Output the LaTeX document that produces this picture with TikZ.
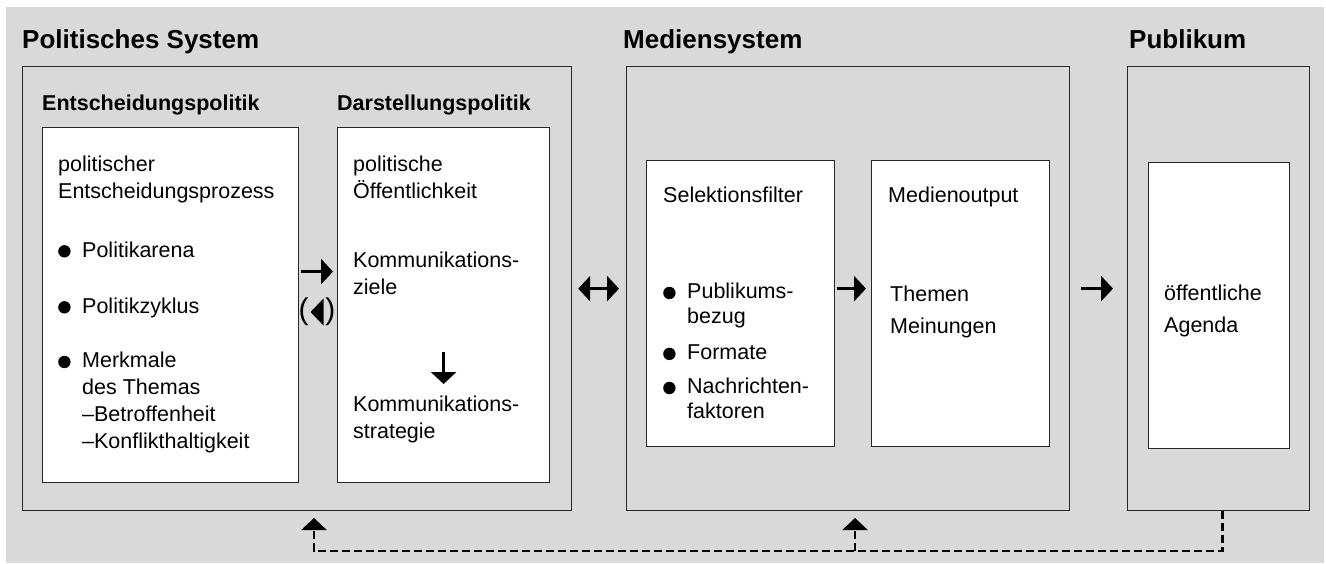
\documentclass[tikz,border=0pt]{standalone}
\usepackage{fontspec}
\setmainfont{Liberation Sans}
\usetikzlibrary{arrows.meta}
\newcommand{\bul}{\makebox[24pt][l]{\tikz[baseline=0pt]\fill (6.2pt,5.8pt) circle (6.2pt);}}
\newcommand{\ind}{\hspace*{24pt}}

\begin{document}
\begin{tikzpicture}[x=1pt, y=-1pt]
        \tikzstyle{frame}=[draw=black!85,line width=1.2pt,anchor=north west,inner sep=0pt]
        \tikzstyle{inbox}=[frame,fill=white]
        \tikzstyle{title}=[anchor=base west,inner sep=0pt,font=\fontsize{26}{31}\selectfont\bfseries]
        \tikzstyle{head}=[anchor=base west,inner sep=0pt,font=\fontsize{21.5}{27}\selectfont\bfseries]
        \tikzstyle{txt}=[anchor=north west,inner sep=0pt,align=left,font=\fontsize{21.5}{27}\selectfont,execute at begin node=\strut]
        \tikzstyle{tight}=[txt,font=\fontsize{21.5}{25}\selectfont]
        \tikzstyle{wide}=[txt,font=\fontsize{21.5}{32}\selectfont]
        \tikzstyle{arr}=[line width=2.6pt,-{Triangle[length=12pt,width=25pt]}]
        \tikzstyle{feedback}=[line width=2.4pt,dash pattern=on 8pt off 4pt,-{Triangle[length=12pt,width=25pt]}]

        \useasboundingbox (0,0) rectangle (1326,563);
        \fill[black!15] (6,7) rectangle (1324,563);

        % outer systems
        \node[frame,minimum width=549pt,minimum height=444pt] (pol) at (22,66) {};
        \node[frame,minimum width=443pt,minimum height=444pt] (med) at (626,66) {};
        \node[frame,minimum width=182pt,minimum height=444pt] (pub) at (1127,66) {};
        \node[title] (t_pol) at (22,48)   {Politisches System};
        \node[title] (t_med) at (623,48)  {Mediensystem};
        \node[title] (t_pub) at (1129,48) {Publikum};

        % inner boxes
        \node[inbox,minimum width=256pt,minimum height=355pt] (ent) at (42,127) {};
        \node[inbox,minimum width=212pt,minimum height=355pt] (dar) at (337,127) {};
        \node[inbox,minimum width=188pt,minimum height=286pt] (sel) at (646,160) {};
        \node[inbox,minimum width=178pt,minimum height=286pt] (out) at (871,160) {};
        \node[inbox,minimum width=141pt,minimum height=286pt] (agd) at (1148,162) {};
        \node[head] (h_ent) at (42,110)  {Entscheidungspolitik};
        \node[head] (h_dar) at (337,110) {Darstellungspolitik};

        \node[txt] (e1) at (58,156) {politischer\\Entscheidungsprozess};
        \node[txt] (e2) at (58,238) {\bul Politikarena};
        \node[txt] (e3) at (58,294) {\bul Politikzyklus};
        \node[txt] (e4) at (58,352) {\bul Merkmale\\\ind des Themas\\\ind –Betroffenheit\\\ind –Konflikthaltigkeit};

        \node[txt] (d1) at (353,156) {politische\\Öffentlichkeit};
        \node[txt] (d2) at (353,252) {Kommunikations-\\ziele};
        \node[txt] (d3) at (353,396) {Kommunikations-\\strategie};

        \node[txt] (s1) at (663,183) {Selektionsfilter};
        \node[tight] (s2) at (663,283) {\bul Publikums-\\\ind bezug};
        \node[tight] (s3) at (663,342) {\bul Formate};
        \node[tight] (s4) at (663,378) {\bul Nachrichten-\\\ind faktoren};

        \node[txt] (o1) at (888,183) {Medienoutput};
        \node[wide] (o2) at (890,286) {Themen\\Meinungen};

        \node[wide] (a1) at (1164,285) {öffentliche\\Agenda};

        % arrows
        \node[inner sep=0pt,font=\fontsize{30}{30}\selectfont] (rev) at (317,312) {(\hspace{17pt})};
        \fill ([xshift=-6.5pt]rev.center) -- ++(13,-13.5) -- ++(0,27) -- cycle;

        \draw[arr,shorten <=2pt,shorten >=4pt] ([yshift=33.5pt]ent.east) -- ([yshift=33.5pt]dar.west);
        \draw[arr] (dar.center |- 0,352) -- (dar.center |- 0,384);
        \draw[arr,{Triangle[length=12pt,width=25pt]}-{Triangle[length=12pt,width=25pt]},shorten <=6pt,shorten >=7pt] (pol.east) -- (med.west);
        \draw[arr,shorten <=2pt,shorten >=5pt] ([yshift=15pt]sel.east) -- ([yshift=15pt]out.west);
        \draw[arr,shorten <=11pt,shorten >=14pt] (med.east) -- (pub.west);

        % feedback
        \coordinate (jm) at (855,551);
        \coordinate (jp) at (314,551);
        \draw[feedback] ([xshift=4pt]pub.south) |- (jm) -- (jp) -- (jp |- 0,518);
        \draw[feedback] (jm) -- (jm |- 0,518);
\end{tikzpicture}
\end{document}
